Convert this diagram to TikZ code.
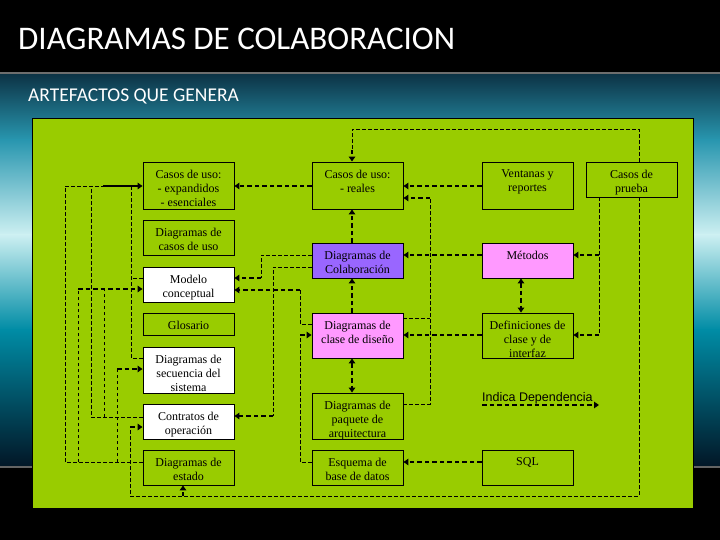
\documentclass[tikz,border=0pt]{standalone}
\usepackage{fontspec}
\setmainfont{Liberation Serif}
\newfontfamily\sansf{Liberation Sans}
\newfontfamily\titlef{Carlito}
\usetikzlibrary{arrows.meta}
\definecolor{panelgreen}{RGB}{153,204,0}
\definecolor{colabpurple}{RGB}{153,102,255}
\definecolor{metpink}{RGB}{255,153,255}
\definecolor{tealA}{RGB}{12,50,68}
\definecolor{tealB}{RGB}{40,150,175}
\definecolor{tealC}{RGB}{205,240,242}
\definecolor{tealD}{RGB}{0,140,165}
\definecolor{tealE}{RGB}{2,22,38}
\tikzset{
  artbox/.style={draw=black, line width=0.9pt, minimum width=91pt, inner sep=0pt},
  arttxt/.style={inner sep=0pt, align=center, font=\fontsize{12}{14.3}\selectfont, yshift=-8pt},
  thinc/.style={line width=0.8pt, dash pattern=on 3.5pt off 2.5pt},
  thickc/.style={line width=2pt, dash pattern=on 4.5pt off 3pt},
  arr/.style={-{Triangle[length=5pt,width=6.5pt]}},
  darr/.style={{Triangle[length=5pt,width=6.5pt]}-{Triangle[length=5pt,width=6.5pt]}}
}
\newcommand\artbox[6]{%
  \node[artbox, fill=#5, minimum height=#4pt] (#1) at (#2,#3) {};
  \node[arttxt, anchor=north] (#1-t) at (#1.north) {#6};}
\begin{document}
\begin{tikzpicture}[x=1pt,y=-1pt]
\useasboundingbox (0,0) rectangle (720,540);
% background
\fill[black] (0,0) rectangle (720,540);
\shade[top color=tealA, bottom color=tealB] (0,73) rectangle (720,140);
\shade[top color=tealB, bottom color=tealC] (0,139.5) rectangle (720,235);
\shade[top color=tealC, bottom color=tealD] (0,234.5) rectangle (720,330);
\shade[top color=tealD, bottom color=tealE] (0,329.5) rectangle (720,467);
\draw[line width=2.5pt, color={rgb,255:red,110;green,110;blue,110}] (0,73) -- (720,73);
\draw[line width=2pt, color={rgb,255:red,100;green,100;blue,100}] (0,467) -- (720,467);
% titles
\node[anchor=base west, inner sep=0pt, font=\titlef\fontsize{33}{36}\selectfont, text=white] (title) at (18,50) {DIAGRAMAS DE COLABORACION};
\node[anchor=base west, inner sep=0pt, font=\titlef\fontsize{19.5}{22}\selectfont, text=white] (subtitle) at (28,102) {ARTEFACTOS QUE GENERA};
% panel
\filldraw[fill=panelgreen, draw=black, line width=0.8pt] (32,118) rectangle (693,508);
% boxes: name, x, y, height, fill, text
\artbox{expand}{188.5}{185.5}{47}{panelgreen}{Casos de uso:\\- expandidos\\- esenciales}
\artbox{cdiag}{188.5}{237.5}{35}{panelgreen}{Diagramas de\\casos de uso}
\artbox{modelo}{188.5}{284.5}{35}{white}{Modelo\\conceptual}
\artbox{glos}{188.5}{324}{22}{panelgreen}{Glosario}
\artbox{secu}{188.5}{370}{46}{white}{Diagramas de\\secuencia del\\sistema}
\artbox{contr}{188.5}{421.5}{35}{white}{Contratos de\\operación}
\artbox{estado}{188.5}{467.5}{35}{panelgreen}{Diagramas de\\estado}
\artbox{reales}{357.5}{185.5}{47}{panelgreen}{Casos de uso:\\- reales}
\artbox{colab}{357.5}{260.5}{35}{colabpurple}{Diagramas de\\Colaboración}
\artbox{clase}{357.5}{335.5}{45}{metpink}{Diagramas de\\clase de diseño}
\artbox{paquete}{357.5}{416}{46}{panelgreen}{Diagramas de\\paquete de\\arquitectura}
\artbox{esquema}{357.5}{467.5}{35}{panelgreen}{Esquema de\\base de datos}
\artbox{ventanas}{527.5}{185.5}{47}{panelgreen}{Ventanas y\\reportes}
\artbox{metodos}{527.5}{260.5}{35}{metpink}{Métodos}
\artbox{defin}{527.5}{335.5}{45}{panelgreen}{Definiciones de\\clase y de\\interfaz}
\artbox{sql}{527.5}{467.5}{35}{panelgreen}{SQL}
\artbox{prueba}{631.5}{179.5}{35}{panelgreen}{Casos de\\prueba}
% connectors: right side
\draw[thinc] (prueba.north -| 639,0) -- (639,129) -- (352,129) -- (352,150);
\draw[thickc,arr] (352,150) -- (reales.north -| 352,0);
\draw[thinc] (prueba.south -| 639,0) -- (639,496) -- (130,496) -- (130,427);
\draw[thickc,arr] (130,427) -- (contr.west |- 0,427);
\draw[thickc,arr] (183,496) -- (estado.south -| 183,0);
\draw[thinc] (prueba.south -| 599,0) -- (599,335);
\draw[thickc,arr] (599,255) -- (metodos.east |- 0,255);
\draw[thickc,arr] (599,335) -- (defin.east |- 0,335);
\draw[thickc,arr] (ventanas.west |- 0,186) -- (reales.east |- 0,186);
\draw[thickc,arr] (reales.west |- 0,186) -- (expand.east |- 0,186);
\draw[thinc] (paquete.east |- 0,404) -- (430,404) -- (430,198);
\draw[thickc,arr] (430,198) -- (reales.east |- 0,198);
\draw[thinc] (clase.east |- 0,318) -- (430,318);
\draw[thickc,arr] (metodos.west |- 0,255) -- (colab.east |- 0,255);
\draw[thickc,arr] (defin.west |- 0,335) -- (clase.east |- 0,335);
\draw[thickc,darr] (metodos.south -| 521,0) -- (defin.north -| 521,0);
\draw[thickc,arr] (colab.north -| 352,0) -- (reales.south -| 352,0);
\draw[thickc,arr] (clase.north -| 352,0) -- (colab.south -| 352,0);
\draw[thickc,darr] (clase.south -| 352,0) -- (paquete.north -| 352,0);
\draw[thickc,arr] (sql.west |- 0,462) -- (esquema.east |- 0,462);
\draw[thinc] (esquema.west |- 0,462) -- (300,462) -- (300,335);
\draw[thickc,arr] (300,335) -- (clase.west |- 0,335);
\draw[thinc] (clase.west |- 0,324) -- (300,324) -- (300,290);
\draw[thickc,arr] (300,290) -- (modelo.east |- 0,290);
\draw[thinc] (colab.west |- 0,255) -- (261,255) -- (261,278);
\draw[thickc,arr] (261,278) -- (modelo.east |- 0,278);
\draw[thinc] (colab.west |- 0,267) -- (273,267) -- (273,416);
\draw[thickc,arr] (273,416) -- (contr.east |- 0,416);
% connectors: left side
\draw[thinc] (estado.west |- 0,462) -- (65,462) -- (65,186) -- (103,186);
\draw[line width=1.6pt,arr] (103,186) -- (expand.west |- 0,186);
\draw[thinc] (78,462) -- (78,289);
\draw[thickc,arr] (78,289) -- (modelo.west |- 0,289);
\draw[thinc] (117,462) -- (117,369);
\draw[thickc,arr] (117,369) -- (secu.west |- 0,369);
\draw[thinc] (contr.west |- 0,417) -- (91,417) -- (91,186);
\draw[thinc] (104,417) -- (104,289);
\draw[thinc] (secu.west |- 0,358) -- (131,358) -- (131,186);
\draw[thinc] (modelo.west |- 0,278) -- (131,278);
% legend
\node[anchor=base west, inner sep=0pt, font=\sansf\fontsize{12.5}{14}\selectfont] (legtxt) at (482,401) {Indica Dependencia};
\coordinate (lega) at (482,405);
\coordinate (legb) at (599,405);
\draw[thickc,arr] (lega) -- (legb);
\end{tikzpicture}
\end{document}
